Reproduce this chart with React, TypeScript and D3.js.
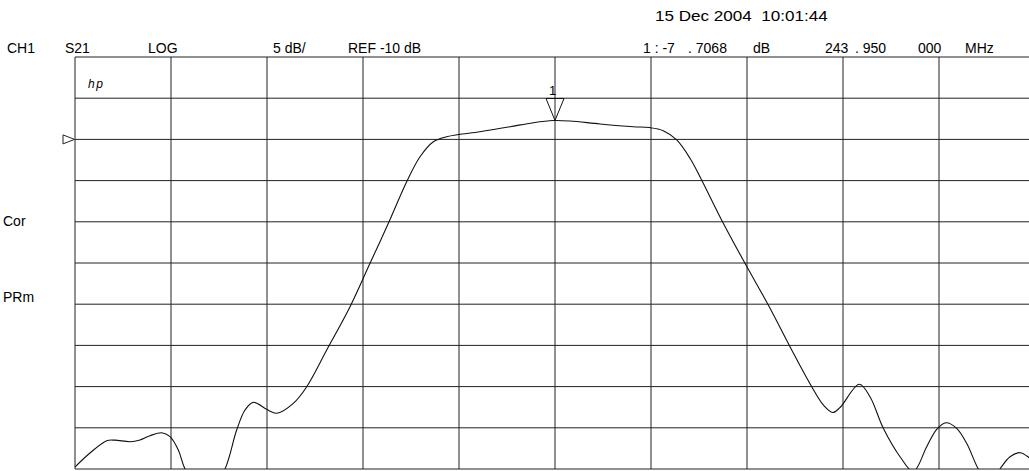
import React from "react";
import * as d3 from "d3";

// Trace data: x in graticule divisions (0..10), S21 in dB
const xDiv = [
  0, 0.156, 0.33, 0.417, 0.573, 0.677, 0.781, 0.903, 0.99, 1.076, 1.146, 1.354, 1.5625,
  1.684, 1.771, 1.857, 1.997, 2.101, 2.274, 2.414, 2.622, 2.865, 3.073, 3.264, 3.455,
  3.594, 3.733, 3.872, 3.993, 4.219, 4.531, 4.774, 4.982, 5.156, 5.469, 5.816, 5.982,
  6.128, 6.268, 6.406, 6.51, 6.753, 6.979, 7.222, 7.448, 7.674, 7.795, 7.893, 7.969,
  8.17, 8.281, 8.42, 8.594, 8.732, 8.872, 8.976, 9.073, 9.184, 9.288, 9.409, 9.521,
  9.635, 9.74, 9.844, 9.938, 10.0,
];
const s21Db = [
  -49.76, -48.06, -46.57, -46.5, -46.69, -46.48, -45.96, -45.6, -46.08, -47.69, -50.0, -54.0, -50.0,
  -45.27, -42.84, -41.91, -42.76, -43.24, -42.03, -40.01, -35.56, -30.3, -25.04, -20.18, -15.13,
  -12.1, -10.28, -9.67, -9.41, -9.07, -8.46, -7.97, -7.71, -7.77, -8.13, -8.46, -8.56,
  -8.94, -10.07, -12.29, -14.53, -20.18, -25.04, -30.1, -35.16, -40.01, -42.23, -43.14, -42.54,
  -39.72, -41.23, -45.06, -48.51, -50.3, -47.29, -45.18, -44.38, -45.06, -46.88, -50.0, -52.0,
  -50.0, -48.51, -48.02, -48.61, -49.3,
];

const yDomainDb = [0, -50];
const xDomainDiv = [0, 10];
const gridDivs = d3.range(0, 11);
const refDb = -10;
const markerDiv = 5;
const markerDb = -7.7068;

const headerTop = [
  { text: "CH1", x: 7 },
  { text: "S21", x: 65 },
  { text: "LOG", x: 148 },
  { text: "5 dB/", x: 273 },
  { text: "REF -10 dB", x: 348 },
];
const headerRight = [
  { text: "1 : -7", x: 643 },
  { text: ". 7068", x: 688 },
  { text: "dB", x: 753 },
  { text: "243", x: 825 },
  { text: ". 950", x: 855 },
  { text: "000", x: 918 },
  { text: "MHz", x: 965 },
];
const dateText = "15 Dec 2004  10:01:44";
const sideLabels = [
  { text: "Cor", y: 226 },
  { text: "PRm", y: 302 },
];

export default function App() {
  const W = 1029;
  const H = 471;
  const x = d3.scaleLinear().domain(xDomainDiv).range([75, 1035]);
  const y = d3.scaleLinear().domain(yDomainDb).range([57, 469]);
  const pts: [number, number][] = xDiv.map((d, i) => [x(d), y(s21Db[i])]);
  const line = d3.line().curve(d3.curveCatmullRom.alpha(0.5))(pts) || "";
  const mx = x(markerDiv);
  const my = y(markerDb);
  const ry = y(refDb);
  const font = "'Liberation Sans', Arial, sans-serif";
  return (
    <svg
      width={W}
      height={H}
      style={{ position: "absolute", left: 0, top: 0, background: "#fff" }}
      fontFamily={font}
    >
      <defs>
        <clipPath id="plot">
          <rect x={75} y={57} width={960} height={412} />
        </clipPath>
      </defs>
      <rect width={W} height={H} fill="#fff" />
      <text
        transform="translate(655,21) scale(1.22,1)"
        x={0}
        y={0}
        fontSize={14}
        style={{ whiteSpace: "pre" }}
      >
        {dateText}
      </text>
      {headerTop.map((t) => (
        <text key={t.text} x={t.x} y={53} fontSize={14}>
          {t.text}
        </text>
      ))}
      {headerRight.map((t) => (
        <text key={t.text} x={t.x} y={53} fontSize={14}>
          {t.text}
        </text>
      ))}
      {sideLabels.map((t) => (
        <text key={t.text} x={3} y={t.y} fontSize={14}>
          {t.text}
        </text>
      ))}
      <g stroke="#222" strokeWidth={1}>
        {gridDivs.map((d) => (
          <line key={"v" + d} x1={x(d)} x2={x(d)} y1={57} y2={469} />
        ))}
        {gridDivs.map((d) => (
          <line key={"h" + d} x1={75} x2={1035} y1={y(-d * 5)} y2={y(-d * 5)} />
        ))}
      </g>
      <text x={88} y={88} fontSize={12} fontStyle="italic" letterSpacing={1.5}>
        hp
      </text>
      <path
        d={`M${x(0) - 12},${ry - 4.5} L${x(0) - 0.5},${ry} L${x(0) - 12},${ry + 4.5} Z`}
        fill="#fff"
        stroke="#222"
        strokeWidth={1}
      />
      <path d={line} fill="none" stroke="#111" strokeWidth={1.1} clipPath="url(#plot)" />
      <path
        d={`M${mx - 9},${my - 22} L${mx + 9},${my - 22} L${mx},${my} Z`}
        fill="none"
        stroke="#111"
        strokeWidth={1}
      />
      <text x={mx - 2.5} y={95} fontSize={13} textAnchor="middle">
        1
      </text>
    </svg>
  );
}
